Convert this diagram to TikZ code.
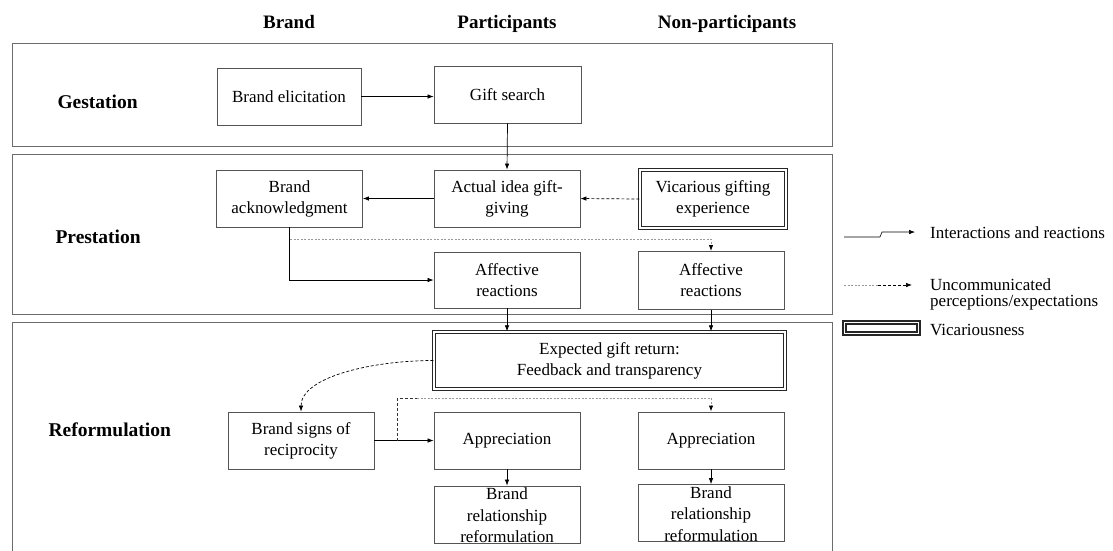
\documentclass[tikz,border=0pt]{standalone}
\usepackage{fontspec}
\setmainfont{Liberation Serif}
\usetikzlibrary{arrows.meta}
\definecolor{boxgray}{gray}{0.33}
\definecolor{framegray}{gray}{0.42}
\definecolor{dotgray}{gray}{0.6}
\begin{document}
\begin{tikzpicture}[x=1pt,y=-1pt,
  box/.style={draw=boxgray, line width=0.8pt, fill=white, minimum width=146pt, minimum height=57pt, inner sep=1pt, align=center, font=\fontsize{17}{21}\selectfont},
  vbox/.style={box, draw=black!85, line width=1.3pt, double=white, double distance=1.5pt},
  txt/.style={align=center, inner sep=0pt, font=\fontsize{17}{21.5}\selectfont},
  hdr/.style={font=\fontsize{19}{22}\selectfont\bfseries, anchor=base},
  phase/.style={font=\fontsize{19.5}{22}\selectfont\bfseries, anchor=west},
  frame/.style={draw=framegray, line width=0.9pt},
  arr/.style={draw=black, line width=0.7pt, -{Latex[length=6pt,width=4.5pt]}},
  darr/.style={arr, dash pattern=on 3pt off 2pt},
  dline/.style={draw=black!80, line width=0.7pt, dash pattern=on 3pt off 2pt},
  garr/.style={draw=dotgray, line width=1pt, dash pattern=on 2pt off 1.5pt, -{Latex[length=6pt,width=4.5pt,black]}},
  gline/.style={draw=dotgray, line width=1pt, dash pattern=on 2pt off 1.5pt},
  leg/.style={anchor=west, align=left, inner sep=0pt, font=\fontsize{17}{16}\selectfont}
]
\useasboundingbox (0,0) rectangle (1113,550);

% column headers
\node[hdr] (hb) at (289,28) {Brand};
\node[hdr] (hp) at (507,28) {Participants};
\node[hdr] (hn) at (727,28) {Non-participants};

% phase frames
\draw[frame] (12,43) rectangle (832,146);
\draw[frame] (12,154) rectangle (832,314);
\draw[frame] (12,560) -- (12,322) -- (832,322) -- (832,560);

\node[phase] (pg) at (54,102) {Gestation};
\node[phase] (pp) at (52,237) {Prestation};
\node[phase] (pr) at (45,430) {Reformulation};

% nodes
\node[box, minimum width=144pt] (be) at (289,96.5) {Brand elicitation};
\node[box, minimum width=147pt] (gs) at (507.5,94.5) {Gift search};
\node[box] (ba) at (289.5,198.5) {Brand\\acknowledgment};
\node[box] (aig) at (507,198.5) {Actual idea gift-\\giving};
\node[vbox, minimum height=58pt] (vic) at (713,199) {Vicarious gifting\\experience};
\node[box, minimum height=56pt] (afp) at (507,280) {Affective\\reactions};
\node[box, minimum height=58pt] (afn) at (711,280.5) {Affective\\reactions};
\node[vbox, minimum width=351pt] (exp) at (609.5,360.5) {Expected gift return:\\Feedback and transparency};
\node[box] (bs) at (301,440.5) {Brand signs of\\reciprocity};
\node[box] (app) at (507,440.5) {Appreciation};
\node[box] (apn) at (711,440.5) {Appreciation};
\node[box] (brp) at (507,514.5) {};
\node[txt] (brpt) at (507,515.5) {Brand\\relationship\\reformulation};
\node[box] (brn) at (711,513) {};
\node[txt] (brnt) at (711,514) {Brand\\relationship\\reformulation};

% connectors
\draw[arr] (be.east) -- (gs.west |- be.east);
\draw[arr] (gs.south) -- (aig.north);
\draw[arr] (aig.west) -- (ba.east);
\draw[darr] (vic.west) -- (aig.east);
\draw[arr] (ba.south) |- (afp.west);
\coordinate (d1) at (290,239);
\draw[garr] (d1) -| (afn.north);
\draw[arr] (afp.south) -- (afp.south |- exp.north);
\draw[arr] (afn.south) -- (afn.south |- exp.north);
\draw[darr] (exp.west) .. controls +(-60,0) and +(0,-35) .. (bs.north);
\draw[arr] (bs.east) -- (app.west);
\coordinate (d2) at (397,440.5);
\coordinate (d3) at (397,398);
\draw[dline] (d2) -- (d3) -- ++(20,0);
\draw[garr] (d3) ++(20,0) -| (apn.north);
\draw[arr] (app.south) -- (brp.north);
\draw[arr] (apn.south) -- (brn.north);

% legend
\coordinate (la) at (844,237);
\coordinate (lb) at (915,232);
\draw[arr, line width=0.6pt] (la) -- ++(36,0) -- ++(2,-5) -- (lb);
\node[leg] (lt1) at (930,233) {Interactions and reactions};
\coordinate (lc) at (844,285);
\coordinate (ld) at (878,285);
\coordinate (le) at (912,285);
\draw[gline] (lc) -- (ld);
\draw[darr] (ld) -- (le);
\node[leg, anchor=north west] (lt2) at (930,278) {Uncommunicated\\perceptions/expectations};
\node[vbox, minimum width=74pt, minimum height=11pt, inner sep=0pt] (lv) at (881.5,328) {};
\node[leg] (lt3) at (930,330) {Vicariousness};
\end{tikzpicture}
\end{document}
